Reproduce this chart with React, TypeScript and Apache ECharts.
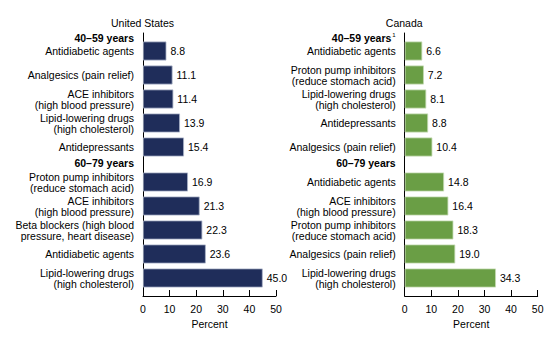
import React, { useEffect, useRef } from "react";
import * as echarts from "echarts";

const usTitle = "United States";
const caTitle = "Canada";
const groupHeaders = ["40–59 years", "60–79 years"];
const tickValues = [0, 10, 20, 30, 40, 50];

const usCats1 = [
  "Antidiabetic agents",
  "Analgesics (pain relief)",
  "ACE inhibitors\n(high blood pressure)",
  "Lipid-lowering drugs\n(high cholesterol)",
  "Antidepressants",
];
const usVals1 = [8.8, 11.1, 11.4, 13.9, 15.4];
const usCats2 = [
  "Proton pump inhibitors\n(reduce stomach acid)",
  "ACE inhibitors\n(high blood pressure)",
  "Beta blockers (high blood\npressure, heart disease)",
  "Antidiabetic agents",
  "Lipid-lowering drugs\n(high cholesterol)",
];
const usVals2 = [16.9, 21.3, 22.3, 23.6, 45.0];

const caCats1 = [
  "Antidiabetic agents",
  "Proton pump inhibitors\n(reduce stomach acid)",
  "Lipid-lowering drugs\n(high cholesterol)",
  "Antidepressants",
  "Analgesics (pain relief)",
];
const caVals1 = [6.6, 7.2, 8.1, 8.8, 10.4];
const caCats2 = [
  "Antidiabetic agents",
  "ACE inhibitors\n(high blood pressure)",
  "Proton pump inhibitors\n(reduce stomach acid)",
  "Analgesics (pain relief)",
  "Lipid-lowering drugs\n(high cholesterol)",
];
const caVals2 = [14.8, 16.4, 18.3, 19.0, 34.3];

const FONT = "'Liberation Sans', Arial, Helvetica, sans-serif";
const FS = 10.5;

export default function App() {
  const ref = useRef<HTMLDivElement>(null);
  useEffect(() => {
    if (!ref.current) return;
    const chart = echarts.init(ref.current, undefined, { renderer: "svg" });

    const panels = [
      { left: 143, cats: [usCats1, usCats2], vals: [usVals1, usVals2], color: "#1f2d5a", border: "#aab3c8", title: usTitle, sup: false },
      { left: 404.7, cats: [caCats1, caCats2], vals: [caVals1, caVals2], color: "#6a9e45", border: "#c4dbb3", title: caTitle, sup: true },
    ];
    const W = 133;
    const axisTop = 33;
    const axisBottom = 296;
    const groupTops = [39, 170];
    const groupH = 120;

    const grid: any[] = [];
    const xAxis: any[] = [];
    const yAxis: any[] = [];
    const series: any[] = [];
    const graphic: any[] = [];

    panels.forEach((p) => {
      // axis frame grid
      const gi = grid.length;
      grid.push({ left: p.left, width: W, top: axisTop, height: axisBottom - axisTop });
      xAxis.push({
        gridIndex: gi,
        type: "value",
        min: tickValues[0],
        max: tickValues[tickValues.length - 1],
        interval: 10,
        axisLine: { show: true, lineStyle: { color: "#000", width: 1 } },
        axisTick: { show: true, inside: true, length: 6, lineStyle: { color: "#000", width: 1 } },
        axisLabel: { color: "#000", fontSize: FS, fontFamily: FONT, margin: 7 },
        splitLine: { show: false },
        name: "Percent",
        nameLocation: "middle",
        nameGap: 22,
        nameTextStyle: { color: "#000", fontSize: FS, fontFamily: FONT },
      });
      yAxis.push({
        gridIndex: gi,
        type: "value",
        min: 0,
        max: 1,
        axisLine: { show: true, lineStyle: { color: "#000", width: 1 } },
        axisTick: { show: false },
        axisLabel: { show: false },
        splitLine: { show: false },
      });

      [0, 1].forEach((g) => {
        const idx = grid.length;
        grid.push({ left: p.left, width: W, top: groupTops[g], height: groupH });
        xAxis.push({ gridIndex: idx, type: "value", min: 0, max: 50, show: false });
        yAxis.push({
          gridIndex: idx,
          type: "category",
          inverse: true,
          data: p.cats[g],
          axisLine: { show: false },
          axisTick: { show: false },
          axisLabel: {
            color: "#000",
            fontSize: FS,
            fontFamily: FONT,
            lineHeight: 11,
            margin: 9,
            align: "right",
          },
        });
        series.push({
          type: "bar",
          xAxisIndex: idx,
          yAxisIndex: idx,
          data: p.vals[g],
          barWidth: 19,
          itemStyle: { color: p.color, borderColor: p.border, borderWidth: 0.8 },
          label: {
            show: true,
            position: "right",
            distance: 4,
            color: "#000",
            fontSize: FS,
            fontFamily: FONT,
            formatter: (d: any) => Number(d.value).toFixed(1),
          },
        });
      });

      graphic.push({
        type: "text",
        x: p.left - 0.5,
        y: 23.3,
        style: {
          text: p.title,
          fill: "#000",
          font: `${FS}px ${FONT}`,
          textAlign: "center",
          textVerticalAlign: "middle",
        },
      });
      const headerY = [37.7, 163.3];
      headerY.forEach((hy, k) => {
        const withSup = p.sup && k === 0;
        graphic.push({
          type: "text",
          x: p.left - 9,
          y: hy,
          style: {
            text: withSup ? `{b|${groupHeaders[k]}}{s|1}` : `{b|${groupHeaders[k]}}`,
            rich: {
              b: { fontWeight: "bold", fontSize: FS, fontFamily: FONT, fill: "#000", color: "#000" },
              s: { fontSize: 6, fontFamily: FONT, fill: "#000", color: "#000", verticalAlign: "top", padding: [0, 0, 6, 1] },
            },
            textAlign: "right",
            textVerticalAlign: "middle",
          },
        });
      });
    });

    chart.setOption({
      animation: false,
      backgroundColor: "#fff",
      grid,
      xAxis,
      yAxis,
      series,
      graphic,
    });
    return () => chart.dispose();
  }, []);
  return <div ref={ref} style={{ position: "absolute", left: 0, top: 0, width: 560, height: 349 }} />;
}
